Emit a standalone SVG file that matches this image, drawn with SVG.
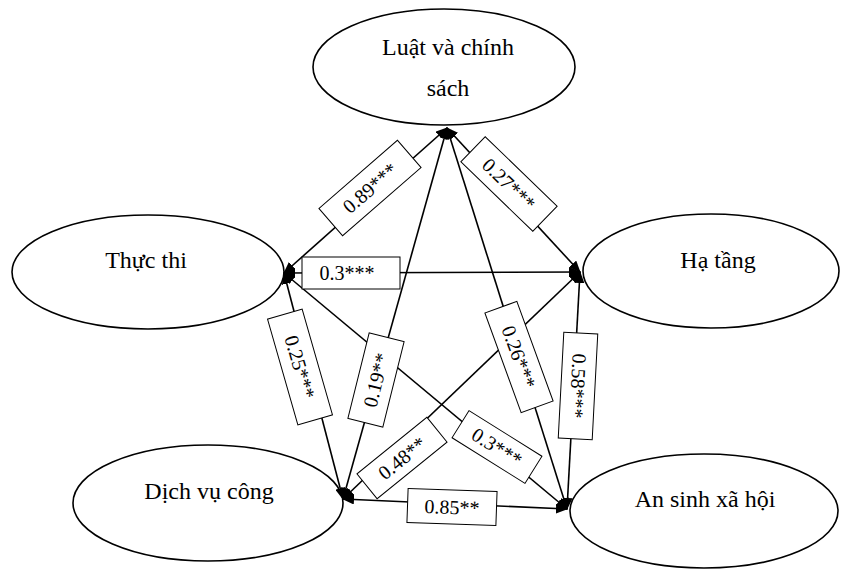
<svg xmlns="http://www.w3.org/2000/svg" width="842" height="569" viewBox="0 0 842 569">
<style>
.node ellipse{fill:#fff;stroke:#000;stroke-width:1.6}
.node text{font-family:"Liberation Serif","Times New Roman",serif;font-size:24px;fill:#000;text-anchor:middle}
.edges line{stroke:#000;stroke-width:1.6;marker-start:url(#ah);marker-end:url(#ah)}
.lbl rect{fill:#fff;stroke:#000;stroke-width:1}
.lbl text{font-family:"Liberation Serif","Times New Roman",serif;font-size:20px;fill:#000;text-anchor:middle}
</style>
<defs>
<marker id="ah" viewBox="0 0 12 10" refX="11" refY="5" markerWidth="12" markerHeight="10" markerUnits="userSpaceOnUse" orient="auto-start-reverse">
<path d="M0,0 L12,5 L0,10 z" fill="#000"/>
</marker>
</defs>
<rect width="842" height="569" fill="#fff"/>
<g id="nodes">
<g id="luat" class="node"><ellipse cx="444" cy="67" rx="131" ry="58"/><text x="448" y="55">Luật và chính</text><text x="448" y="96">sách</text></g>
<g id="thucthi" class="node"><ellipse cx="148" cy="272" rx="136" ry="57"/><text x="146" y="268">Thực thi</text></g>
<g id="hatang" class="node"><ellipse cx="711" cy="271" rx="128" ry="57"/><text x="718" y="268">Hạ tầng</text></g>
<g id="dichvu" class="node"><ellipse cx="208" cy="503" rx="135" ry="58"/><text x="209" y="499">Dịch vụ công</text></g>
<g id="ansinh" class="node"><ellipse cx="704" cy="511" rx="134" ry="57"/><text x="705" y="507">An sinh xã hội</text></g>
</g>
<g id="connectors" class="edges">
<line x1="447" y1="128" x2="284" y2="273"/>
<line x1="447" y1="128" x2="580" y2="272"/>
<line x1="447" y1="128" x2="343" y2="499"/>
<line x1="447" y1="128" x2="567" y2="509"/>
<line x1="284" y1="273" x2="580" y2="272"/>
<line x1="284" y1="273" x2="343" y2="499"/>
<line x1="284" y1="273" x2="567" y2="509"/>
<line x1="580" y1="272" x2="343" y2="499"/>
<line x1="580" y1="272" x2="567" y2="509"/>
<line x1="343" y1="499" x2="567" y2="509"/>
</g>
<g id="labels" class="lbl">
<g transform="translate(370,188) rotate(-41)"><rect x="-52" y="-18" width="104" height="36"/><text y="7">0.89***</text></g>
<g transform="translate(509,184) rotate(44)"><rect x="-50" y="-17.5" width="100" height="35"/><text y="7">0.27***</text></g>
<g transform="translate(351,273)"><rect x="-49" y="-16" width="98" height="32"/><text x="-4" y="7">0.3***</text></g>
<g transform="translate(300,367) rotate(74)"><rect x="-55" y="-18" width="110" height="36"/><text y="7">0.25***</text></g>
<g transform="translate(376,380) rotate(-76)"><rect x="-44" y="-18" width="88" height="36"/><text y="7">0.19**</text></g>
<g transform="translate(519,357) rotate(70)"><rect x="-53" y="-17" width="106" height="34"/><text y="7">0.26***</text></g>
<g transform="translate(578,386) rotate(93)"><rect x="-53" y="-17" width="106" height="34"/><text y="7">0.58***</text></g>
<g transform="translate(497,447) rotate(32)"><rect x="-43" y="-16" width="86" height="32"/><text y="7">0.3***</text></g>
<g transform="translate(402,458) rotate(-39)"><rect x="-45" y="-16" width="90" height="32"/><text y="7">0.48**</text></g>
<g transform="translate(452,507) rotate(2)"><rect x="-44.5" y="-17" width="89" height="34"/><text y="7">0.85**</text></g>
</g>
</svg>
